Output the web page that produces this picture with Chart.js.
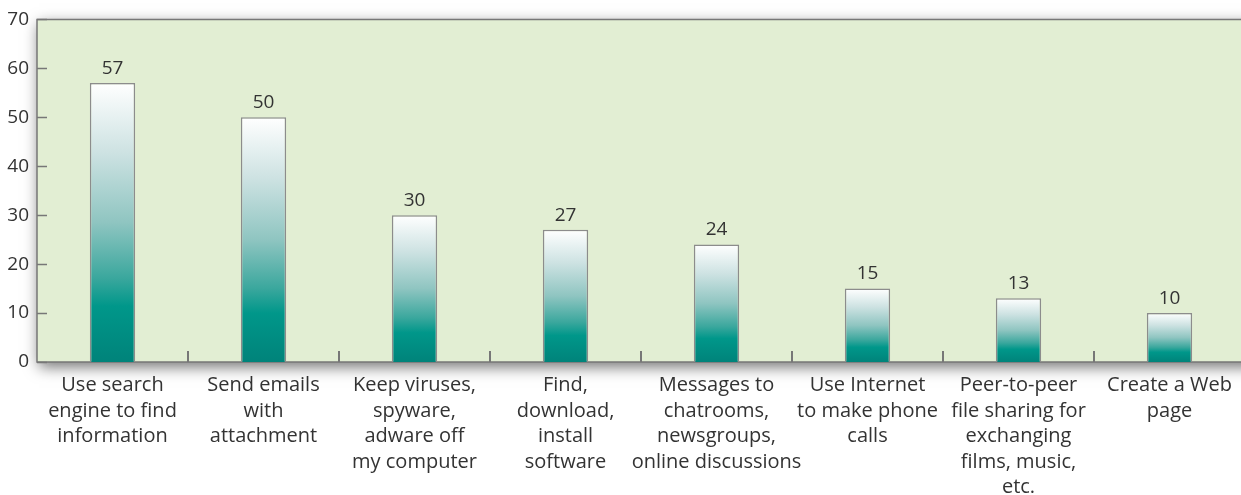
<!DOCTYPE html>
<html>
<head>
<meta charset="utf-8">
<script src="https://cdn.jsdelivr.net/npm/chart.js@4"></script>
<style>
  html, body { margin: 0; padding: 0; background: #ffffff; overflow: hidden; }
  #wrap { width: 1245px; height: 495px; position: relative; }
</style>
</head>
<body>
<div id="wrap"><canvas id="c"></canvas></div>
<script>
// Internet activities, share of users (%)
const categories = [
  ['Use search', 'engine to find', 'information'],
  ['Send emails', 'with', 'attachment'],
  ['Keep viruses,', 'spyware,', 'adware off', 'my computer'],
  ['Find,', 'download,', 'install', 'software'],
  ['Messages to', 'chatrooms,', 'newsgroups,', 'online discussions'],
  ['Use Internet', 'to make phone', 'calls'],
  ['Peer-to-peer', 'file sharing for', 'exchanging', 'films, music,', 'etc.'],
  ['Create a Web', 'page']
];
const values = [57, 50, 30, 27, 24, 15, 13, 10];
const yTicks = [0, 10, 20, 30, 40, 50, 60, 70];

const FONT = '"Open Sans", Roboto, sans-serif';
const TEXT = '#333333';
const LINE = '#777777';

// Vertical white-to-teal gradient spanning each bar from its top down to the baseline
function barGradient(ctx) {
  const chart = ctx.chart;
  if (!chart.chartArea || ctx.type !== 'data') return '#00897b';
  const y = chart.scales.y;
  const top = y.getPixelForValue(values[ctx.dataIndex]);
  const bottom = y.getPixelForValue(0);
  const g = chart.ctx.createLinearGradient(0, top, 0, bottom);
  g.addColorStop(0.0, '#ffffff');
  g.addColorStop(0.25, '#cde2e2');
  g.addColorStop(0.5, '#8fc5c1');
  g.addColorStop(0.7, '#3aa79d');
  g.addColorStop(0.8, '#00978a');
  g.addColorStop(1.0, '#00837a');
  return g;
}

// Plot panel: green fill with a soft drop shadow, plus its top/left/bottom edges
const panel = {
  id: 'panel',
  beforeDatasetsDraw(chart) {
    const { ctx, chartArea: a } = chart;
    ctx.save();
    ctx.shadowColor = 'rgba(0,0,0,0.55)';
    ctx.shadowBlur = 14;
    ctx.shadowOffsetX = 2;
    ctx.shadowOffsetY = 5;
    ctx.fillStyle = '#e2eed3';
    ctx.fillRect(a.left, a.top, a.right - a.left + 20, a.bottom - a.top);
    ctx.restore();

    ctx.save();
    ctx.strokeStyle = LINE;
    ctx.lineWidth = 1.5;
    ctx.beginPath();
    ctx.moveTo(a.right + 20, a.top);
    ctx.lineTo(a.left, a.top);
    ctx.lineTo(a.left, a.bottom);
    ctx.lineTo(a.right + 20, a.bottom);
    ctx.stroke();

    // inward ticks on the value axis
    const y = chart.scales.y;
    ctx.lineWidth = 1.5;
    ctx.beginPath();
    yTicks.forEach(v => {
      const py = Math.round(y.getPixelForValue(v)) + 0.5;
      ctx.moveTo(a.left, py);
      ctx.lineTo(a.left + 10, py);
    });
    ctx.stroke();

    // inward ticks between categories
    const x = chart.scales.x;
    const step = x.getPixelForValue(1) - x.getPixelForValue(0);
    ctx.lineWidth = 2;
    ctx.beginPath();
    for (let i = 1; i < categories.length; i++) {
      const px = Math.round(x.getPixelForValue(i) - step / 2);
      ctx.moveTo(px, a.bottom);
      ctx.lineTo(px, a.bottom - 11);
    }
    ctx.stroke();
    ctx.restore();
  }
};

// Value printed above each bar
const valueLabels = {
  id: 'valueLabels',
  afterDatasetsDraw(chart) {
    const { ctx } = chart;
    const meta = chart.getDatasetMeta(0);
    ctx.save();
    ctx.fillStyle = TEXT;
    ctx.font = '19px ' + FONT;
    ctx.textAlign = 'center';
    ctx.textBaseline = 'bottom';
    meta.data.forEach((bar, i) => {
      ctx.fillText(String(values[i]), bar.x, bar.y - 5);
    });
    ctx.restore();
  }
};

new Chart(document.getElementById('c'), {
  type: 'bar',
  data: {
    labels: categories,
    datasets: [{
      data: values,
      backgroundColor: barGradient,
      borderColor: '#8c8c8c',
      borderWidth: 1.5,
      borderSkipped: 'bottom',
      barPercentage: 0.6,
      categoryPercentage: 0.5
    }]
  },
  options: {
    responsive: true,
    maintainAspectRatio: false,
    animation: false,
    events: [],
    layout: { padding: { top: 19, right: 0, left: 0, bottom: 0 } },
    plugins: { legend: { display: false }, tooltip: { enabled: false } },
    scales: {
      x: {
        offset: true,
        grid: { display: false, drawTicks: false },
        border: { display: false },
        ticks: {
          color: TEXT,
          font: { family: FONT, size: 20, lineHeight: 1.275 },
          padding: 11,
          maxRotation: 0,
          autoSkip: false
        },
        afterFit(s) { s.height = 133; }
      },
      y: {
        min: 0,
        max: 70,
        grid: { display: false, drawTicks: false },
        border: { display: false },
        ticks: {
          stepSize: 10,
          color: TEXT,
          font: { family: FONT, size: 19 },
          padding: 8,
          callback: v => yTicks.includes(v) ? String(v) : ''
        },
        afterFit(s) { s.width = 37; }
      }
    }
  },
  plugins: [panel, valueLabels]
});
</script>
</body>
</html>
